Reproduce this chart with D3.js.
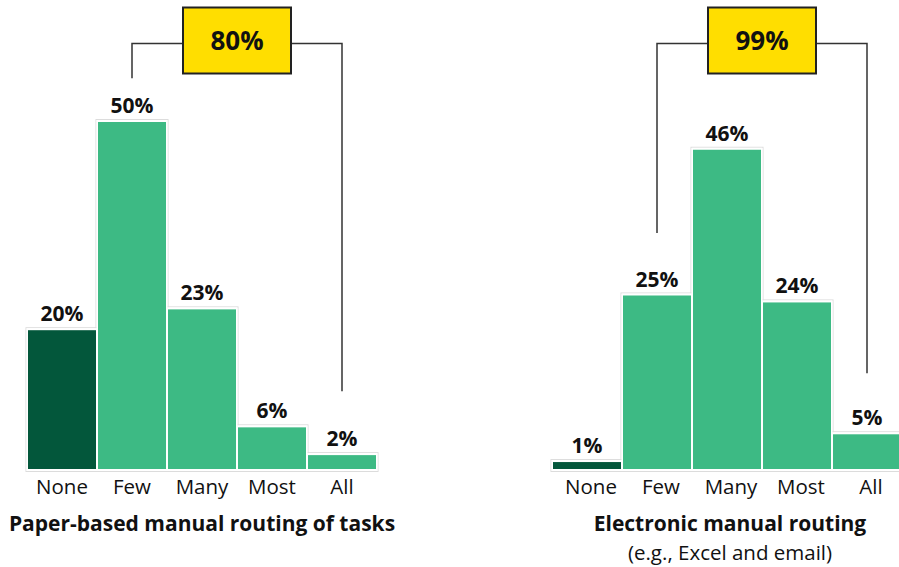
<!DOCTYPE html>
<html>
<head>
<meta charset="utf-8">
<script src="https://cdn.jsdelivr.net/npm/d3@7"></script>
<style>
  html, body { margin: 0; padding: 0; background: #fff; }
  svg { display: block; font-family: "Open Sans", Lato, sans-serif; }
</style>
</head>
<body>
<svg id="chart" width="899" height="567"></svg>
<script>
// ---- data ----
const categories = ["None", "Few", "Many", "Most", "All"];
const paperValues = [20, 50, 23, 6, 2];
const electronicValues = [1, 25, 46, 24, 5];
const totalLabels = ["80%", "99%"];
const titleLines = [["Paper-based manual routing of tasks"], ["Electronic manual routing", "(e.g., Excel and email)"]];
const bracketFrom = ["Few", "Few"];
const bracketTo = ["All", "All"];
const bracketTopValue = [61.4, 61.4];
const bracketEndFrom = [56.3, 34];
const bracketEndTo = [11.2, 13.8];

// ---- layout ----
const svg = d3.select("#chart");
const baseline = 469;
const y = d3.scaleLinear().domain([0, 50]).range([baseline, 122]);
const panels = [
  { values: paperValues, range: [27, 377], labelShift: 0, titleX: 202 },
  { values: electronicValues, range: [552, 902], labelShift: 4, titleX: 730 }
];
const darkGreen = "#03573b", lightGreen = "#3dba84", yellow = "#ffde00";

panels.forEach((p, i) => {
  const x = d3.scaleBand().domain(categories).range(p.range).padding(0);
  const g = svg.append("g");
  const data = categories.map((c, j) => ({ c, v: p.values[j] }));

  g.selectAll("rect.outline").data(data).join("rect")
    .attr("x", d => x(d.c) - 1)
    .attr("y", d => y(d.v) - 2.5)
    .attr("width", x.bandwidth() + 2)
    .attr("height", d => baseline - y(d.v) + 5)
    .attr("fill", "none")
    .attr("stroke", "#dcdcdc")
    .attr("stroke-width", 1);
  g.selectAll("rect.bg").data(data).join("rect")
    .attr("x", d => x(d.c) - 0.5)
    .attr("y", d => y(d.v) - 2)
    .attr("width", x.bandwidth() + 1)
    .attr("height", d => baseline - y(d.v) + 4)
    .attr("fill", "#fff");
  g.selectAll("rect.bar").data(data).join("rect")
    .attr("x", d => x(d.c) + 1)
    .attr("y", d => Math.min(y(d.v), baseline - 4))
    .attr("width", x.bandwidth() - 2)
    .attr("height", d => Math.max(4, baseline - y(d.v)))
    .attr("fill", d => d.c === "None" ? darkGreen : lightGreen);

  g.selectAll("text.val").data(data).join("text")
    .attr("x", d => x(d.c) + x.bandwidth() / 2)
    .attr("y", d => y(d.v) - 9)
    .attr("text-anchor", "middle")
    .attr("font-size", 21)
    .attr("font-weight", 700)
    .attr("fill", "#111")
    .text(d => d.v + "%");

  g.selectAll("text.cat").data(data).join("text")
    .attr("x", d => x(d.c) + x.bandwidth() / 2 + p.labelShift)
    .attr("y", 494)
    .attr("text-anchor", "middle")
    .attr("font-size", 20.5)
    .attr("fill", "#111")
    .text(d => d.c);

  const xa = x(bracketFrom[i]) + x.bandwidth() / 2;
  const xb = x(bracketTo[i]) + x.bandwidth() / 2;
  const yt = Math.round(y(bracketTopValue[i])) + 0.5;
  const path = d3.path();
  path.moveTo(xa, y(bracketEndFrom[i]));
  path.lineTo(xa, yt);
  path.lineTo(xb, yt);
  path.lineTo(xb, y(bracketEndTo[i]));
  g.append("path").attr("d", path.toString())
    .attr("fill", "none").attr("stroke", "#333").attr("stroke-width", 1.5);

  const bw = 108, bh = 66;
  const cx = (xa + xb) / 2;
  g.append("rect")
    .attr("x", cx - bw / 2).attr("y", yt - 36)
    .attr("width", bw).attr("height", bh)
    .attr("fill", yellow).attr("stroke", "#222").attr("stroke-width", 2);
  g.append("text")
    .attr("x", cx).attr("y", yt + 6)
    .attr("text-anchor", "middle")
    .attr("font-size", 26).attr("font-weight", 700)
    .attr("fill", "#111")
    .text(totalLabels[i]);

  titleLines[i].forEach((t, k) => {
    g.append("text")
      .attr("x", p.titleX)
      .attr("y", k === 0 ? 531 : 559.5)
      .attr("text-anchor", "middle")
      .attr("font-size", k === 0 ? 21 : 20.5)
      .attr("font-weight", k === 0 ? 700 : 400)
      .attr("fill", "#111")
      .text(t);
  });
});
</script>
</body>
</html>
